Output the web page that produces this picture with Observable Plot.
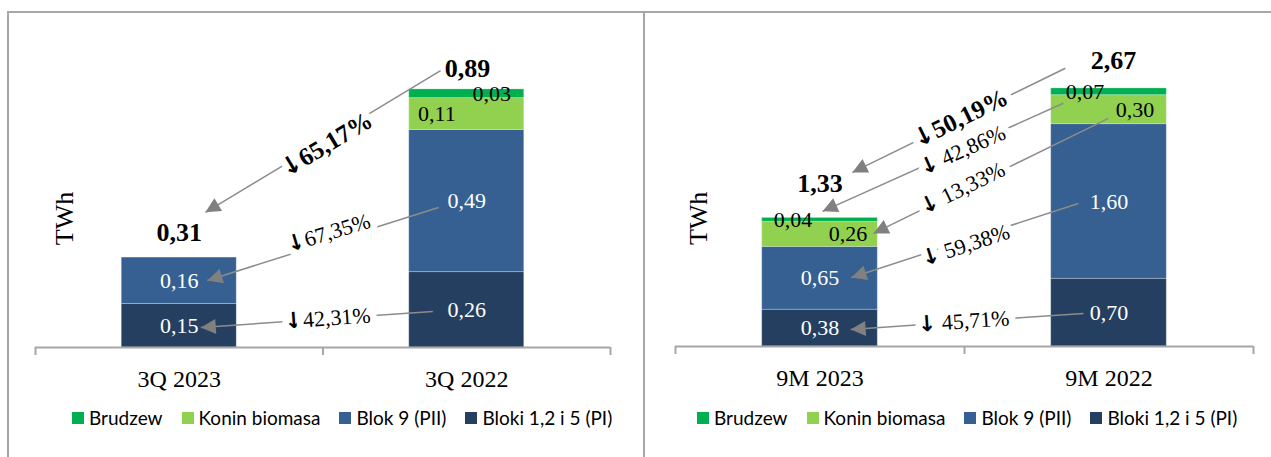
<!DOCTYPE html>
<html><head><meta charset="utf-8">
<script src="https://cdn.jsdelivr.net/npm/d3@7"></script>
<script src="https://cdn.jsdelivr.net/npm/@observablehq/plot@0.6"></script>
<style>
body{margin:0;background:#fff;width:1271px;height:457px;overflow:hidden;position:relative;}
.frame{position:absolute;border-left:2px solid #a6a6a6;border-top:2px solid #a6a6a6;box-sizing:border-box;}
.panel{position:absolute;}
.legend{position:absolute;display:flex;align-items:center;font-family:Lato,"Liberation Sans",sans-serif;font-size:19px;color:#000;white-space:nowrap;line-height:20px}
.legend .item{display:flex;align-items:center;margin-right:19px}
.legend .sw{display:inline-block;width:12px;height:12px;margin-right:5px}
</style></head><body>
<div class="frame" style="left:7px;top:11px;width:640px;height:460px"></div>
<div class="frame" style="left:643px;top:11px;width:640px;height:460px"></div>
<div id="p1" class="panel" style="left:8px;top:12px"></div>
<div id="p2" class="panel" style="left:644px;top:12px"></div>
<div id="l1" class="legend" style="left:72px;top:408px"></div>
<div id="l2" class="legend" style="left:697px;top:408px"></div>
<script>
// ---- data ----
const seriesNames = ["Bloki 1,2 i 5 (PI)", "Blok 9 (PII)", "Konin biomasa", "Brudzew"];
const seriesColors = ["#253f61", "#366092", "#92d050", "#00b050"];
const darkSeries = ["Bloki 1,2 i 5 (PI)", "Blok 9 (PII)"];
const legendOrder = ["Brudzew", "Konin biomasa", "Blok 9 (PII)", "Bloki 1,2 i 5 (PI)"];

const quarterCats = ["3Q 2023", "3Q 2022"];
const q3_2023 = [0.15, 0.16, 0, 0];
const q3_2022 = [0.26, 0.49, 0.11, 0.03];
const quarterTotals = [0.31, 0.89];
const quarterChanges = ["↓65,17%", "↓67,35%", "↓42,31%"];

const nineCats = ["9M 2023", "9M 2022"];
const m9_2023 = [0.38, 0.65, 0.26, 0.04];
const m9_2022 = [0.70, 1.60, 0.30, 0.07];
const nineTotals = [1.33, 2.67];
const nineChanges = ["↓50,19%", "↓ 42,86%", "↓ 13,33%", "↓ 59,38%", "↓ 45,71%"];

const unitLabel = "TWh";

// ---- layout (annotation placement in data units) ----
const quarterLayout = {
  width: 632, height: 390, marginLeft: 27, marginRight: 30, marginTop: 45, marginBottom: 55, yMax: 1,
  totalPos: [[0, 0.397], [1.003, 0.962]],
  labelShift: [[0, 0, 0, 0], [0, 0, -0.104, 0.087]],
  unitPos: [-0.40, 0.445],
  arrows: [
    {from: [0.909, 0.955], to: [0.091, 0.466], at: [0.512, 0.700], rotate: -31, bold: true},
    {from: [0.902, 0.483], to: [0.098, 0.231], at: [0.519, 0.395], rotate: -17},
    {from: [0.882, 0.124], to: [0.075, 0.069], at: [0.516, 0.100], rotate: -4}
  ]
};
const nineLayout = {
  width: 627, height: 390, marginLeft: 31, marginRight: 18, marginTop: 44, marginBottom: 56, yMax: 3,
  totalPos: [[0, 1.687], [1.016, 2.96]],
  labelShift: [[0, 0, 0.097, -0.093], [0, 0, 0.09, -0.083]],
  unitPos: [-0.42, 1.325],
  arrows: [
    {from: [0.849, 2.878], to: [0.112, 1.801], at: [0.486, 2.360], rotate: -26, bold: true},
    {from: [0.842, 2.516], to: [0.009, 1.398], at: [0.493, 2.029], rotate: -24},
    {from: [0.998, 2.360], to: [0.185, 1.170], at: [0.493, 1.636], rotate: -26},
    {from: [0.894, 1.480], to: [0.109, 0.714], at: [0.503, 1.046], rotate: -18},
    {from: [0.912, 0.342], to: [0.106, 0.176], at: [0.497, 0.259], rotate: -4}
  ]
};

const serif = "'Liberation Serif', 'DejaVu Serif', serif";
const fmt = v => v.toFixed(2).replace(".", ",");

function stackRows(valuesByCat) {
  const rows = [];
  valuesByCat.forEach((vals, i) => {
    let acc = 0;
    vals.forEach((v, s) => {
      if (v > 0) rows.push({cat: i, s, series: seriesNames[s], value: v, y1: acc, y2: acc + v});
      acc += v;
    });
  });
  return rows;
}

function panel(cats, valuesByCat, totals, changes, L) {
  const rows = stackRows(valuesByCat);
  const arrows = L.arrows.map((a, i) => ({...a, text: changes[i]}));
  const lx = d => d.cat + L.labelShift[d.cat][d.s];
  const ly = d => (d.y1 + d.y2) / 2;
  const svg = Plot.plot({
    width: L.width, height: L.height,
    marginLeft: L.marginLeft, marginRight: L.marginRight, marginTop: L.marginTop, marginBottom: L.marginBottom,
    x: {domain: [-0.5, 1.5], axis: null},
    y: {domain: [0, L.yMax], axis: null},
    color: {domain: seriesNames, range: seriesColors},
    style: {background: "transparent", overflow: "visible"},
    marks: [
      Plot.rect(rows, {x1: d => d.cat - 0.2, x2: d => d.cat + 0.2, y1: "y1", y2: "y2", fill: "series", stroke: "#ffffff", strokeOpacity: 0.25, strokeWidth: 1}),
      Plot.ruleY([0], {stroke: "#a6a6a6", strokeWidth: 2}),
      Plot.axisX({ticks: [-0.5, 0.5, 1.5], tickSize: 8, tickFormat: () => "", stroke: "#a6a6a6", strokeWidth: 2}),
      Plot.text(rows.filter(d => darkSeries.includes(d.series)), {x: lx, y: ly, text: d => fmt(d.value), fill: "#ffffff", fontSize: 22, fontFamily: serif}),
      Plot.text(rows.filter(d => !darkSeries.includes(d.series)), {x: lx, y: ly, text: d => fmt(d.value), fill: "#000000", fontSize: 22, fontFamily: serif}),
      Plot.text(totals, {x: (d, i) => L.totalPos[i][0], y: (d, i) => L.totalPos[i][1], text: d => fmt(d), fill: "#000", fontSize: 26, fontWeight: "bold", fontFamily: serif}),
      Plot.text(cats, {x: (d, i) => i, y: () => 0, dy: 32, text: d => d, fill: "#000", fontSize: 24, fontFamily: serif}),
      Plot.text([unitLabel], {x: () => L.unitPos[0], y: () => L.unitPos[1], text: d => d, rotate: -90, fill: "#000", fontSize: 26, fontFamily: serif}),
      Plot.link(arrows, {x1: d => d.from[0], y1: d => d.from[1], x2: d => d.to[0], y2: d => d.to[1], stroke: "#8c8c8c", strokeWidth: 1.5, markerEnd: "arrow"}),
      Plot.text(arrows.filter(d => d.bold), {x: d => d.at[0], y: d => d.at[1], text: "text", rotate: "rotate", fill: "#000", stroke: "#fff", strokeWidth: 14, paintOrder: "stroke", fontSize: 25, fontWeight: "bold", fontFamily: serif}),
      Plot.text(arrows.filter(d => !d.bold), {x: d => d.at[0], y: d => d.at[1], text: "text", rotate: "rotate", fill: "#000", stroke: "#fff", strokeWidth: 14, paintOrder: "stroke", fontSize: 22, fontFamily: serif})
    ]
  });
  const s = d3.select(svg);
  // restyle Plot's link markers as filled triangles
  s.selectAll("marker").each(function () {
    const m = d3.select(this);
    m.attr("viewBox", "0 0 10 10").attr("refX", 10).attr("refY", 5)
      .attr("markerWidth", 17).attr("markerHeight", 15)
      .attr("markerUnits", "userSpaceOnUse").attr("orient", "auto");
    m.selectAll("*").remove();
    m.append("path").attr("d", "M0,0L10,5L0,10Z").attr("fill", "#808080").attr("stroke", "none");
  });
  // heavy down-arrow glyph in the change labels
  s.selectAll("text").each(function () {
    const t = this.textContent;
    if (t.startsWith("↓") && this.children.length === 0) {
      this.textContent = "";
      const el = d3.select(this);
      el.append("tspan").attr("font-family", "'DejaVu Sans'").attr("font-weight", "bold").text("↓");
      el.append("tspan").text(t.slice(1));
    }
  });
  return svg;
}

function legend(el) {
  legendOrder.forEach(name => {
    const item = document.createElement("div");
    item.className = "item";
    const sw = document.createElement("span");
    sw.className = "sw";
    sw.style.background = seriesColors[seriesNames.indexOf(name)];
    item.appendChild(sw);
    item.appendChild(document.createTextNode(name));
    el.appendChild(item);
  });
}

document.getElementById("p1").appendChild(panel(quarterCats, [q3_2023, q3_2022], quarterTotals, quarterChanges, quarterLayout));
document.getElementById("p2").appendChild(panel(nineCats, [m9_2023, m9_2022], nineTotals, nineChanges, nineLayout));
legend(document.getElementById("l1"));
legend(document.getElementById("l2"));
</script>
</body></html>
